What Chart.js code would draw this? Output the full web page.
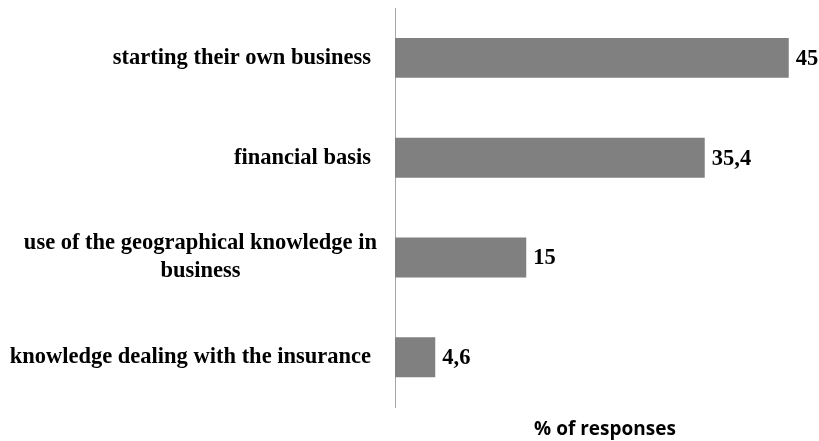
<!DOCTYPE html>
<html>
<head>
<meta charset="utf-8">
<script src="https://cdn.jsdelivr.net/npm/chart.js@4"></script>
<style>
  html, body { margin: 0; padding: 0; background: #fff; }
  #wrap { width: 819px; height: 441px; }
</style>
</head>
<body>
<div id="wrap"><canvas id="chart" width="819" height="441"></canvas></div>
<script>
// categories (top to bottom) and share of responses, %
const categories = [
    ["starting their own business"],
    ["financial basis"],
    ["use of the geographical knowledge in", "business"],
    ["knowledge dealing with the insurance"]
];
const responses = [45, 35.4, 15, 4.6];
const axisTitle = "% of responses";

const serif = "'Liberation Serif', 'Times New Roman', serif";
const labelFont = "bold 22.5px " + serif;

// comma decimals, as in the source table
function fmt(v){
    return String(v).replace(".", ",");
}

// category labels left of the axis (single lines right aligned, wrapped ones centred)
const categoryLabels = {
    id: "categoryLabels",
    afterDraw(chart){
        const ctx = chart.ctx;
        const y = chart.scales.y;
        const right = chart.chartArea.left - 24;
        ctx.save();
        ctx.font = labelFont;
        ctx.fillStyle = "#000";
        ctx.textBaseline = "middle";
        categories.forEach((lines, i) => {
            const cy = y.getPixelForValue(i);
            const lh = 28;
            const top = cy - (lines.length - 1) * lh / 2;
            if(lines.length == 1){
                ctx.textAlign = "right";
                ctx.fillText(lines[0], right, cy);
            }else{
                const w = Math.max(...lines.map(l => ctx.measureText(l).width));
                ctx.textAlign = "center";
                lines.forEach((l, k) => ctx.fillText(l, right + 6 - w / 2, top + k * lh));
            }
        });
        ctx.restore();
    }
};

// value printed just past the end of each bar
const valueLabels = {
    id: "valueLabels",
    afterDatasetsDraw(chart){
        const ctx = chart.ctx;
        const meta = chart.getDatasetMeta(0);
        ctx.save();
        ctx.font = labelFont;
        ctx.fillStyle = "#000";
        ctx.textAlign = "left";
        ctx.textBaseline = "middle";
        meta.data.forEach((bar, i) => {
            ctx.fillText(fmt(responses[i]), bar.x + 7, bar.y + 1);
        });
        ctx.restore();
    }
};

new Chart(document.getElementById("chart").getContext("2d"), {
    type: "bar",
    data: {
        labels: categories.map(c => c.join(" ")),
        datasets: [{
            data: responses,
            backgroundColor: "#808080",
            borderWidth: 0,
            barPercentage: 0.4,
            categoryPercentage: 1
        }]
    },
    options: {
        indexAxis: "y",
        responsive: false,
        animation: false,
        layout: { padding: { top: 8, right: 4, bottom: 0, left: 0 } },
        plugins: {
            legend: { display: false },
            tooltip: { enabled: false }
        },
        scales: {
            x: {
                min: 0,
                max: 48,
                grid: { display: false },
                border: { display: false },
                ticks: { display: false },
                title: {
                    display: true,
                    text: axisTitle,
                    color: "#000",
                    font: { family: "'Open Sans', 'Liberation Sans', sans-serif", size: 19, weight: "bold" },
                    padding: { top: 3, bottom: 0 }
                }
            },
            y: {
                grid: { display: false },
                border: { display: true, color: "#a6a6a6", width: 1 },
                ticks: { display: false },
                afterFit(s){ s.width = 395; }
            }
        }
    },
    plugins: [categoryLabels, valueLabels]
});
</script>
</body>
</html>
